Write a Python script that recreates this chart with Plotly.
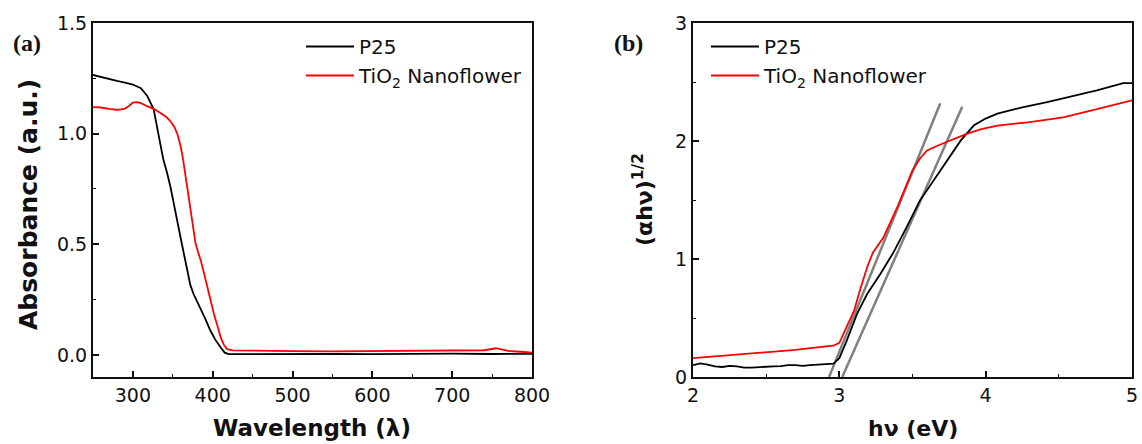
import plotly.graph_objects as go

# ---------------- Panel (a): UV-vis absorbance ----------------
wl_p25 = [250, 260, 270, 280, 290, 300, 310, 318, 326, 330, 334, 338, 343, 347, 352,
          355, 360, 364, 368, 372, 376, 380, 385, 391, 397, 403, 410, 415, 420, 450, 500,
          550, 600, 650, 700, 750, 800]
abs_p25 = [1.265, 1.255, 1.248, 1.238, 1.230, 1.222, 1.205, 1.170, 1.110, 1.040, 0.960,
           0.885, 0.820, 0.760, 0.670, 0.610, 0.525, 0.455, 0.380, 0.315, 0.275, 0.245,
           0.210, 0.160, 0.110, 0.070, 0.033, 0.010, 0.003, 0.004, 0.003, 0.004, 0.003,
           0.005, 0.006, 0.004, 0.005]

wl_nf = [250, 260, 270, 280, 285, 290, 295, 300, 305, 310, 318, 326, 334, 342, 347, 352,
         356, 360, 363, 366, 369, 372, 375, 378.5, 382, 385, 389, 393, 397, 401.5, 406,
         410, 414, 418, 425, 450, 500, 550, 600, 650, 700, 740, 755, 770, 790, 800]
abs_nf = [1.120, 1.118, 1.112, 1.108, 1.110, 1.113, 1.125, 1.140, 1.142, 1.138, 1.124,
          1.112, 1.094, 1.075, 1.056, 1.030, 0.995, 0.940, 0.880, 0.806, 0.730, 0.655,
          0.575, 0.503, 0.460, 0.427, 0.370, 0.306, 0.245, 0.185, 0.130, 0.079, 0.045,
          0.026, 0.020, 0.018, 0.017, 0.016, 0.017, 0.021, 0.022, 0.021, 0.030, 0.018,
          0.013, 0.010]

# ---------------- Panel (b): Tauc plot ----------------
ev_p25 = [2.00, 2.05, 2.10, 2.15, 2.20, 2.25, 2.30, 2.35, 2.40, 2.45, 2.50, 2.55, 2.60,
          2.65, 2.70, 2.75, 2.80, 2.85, 2.90, 2.96, 3.00, 3.05, 3.12, 3.19, 3.28, 3.37,
          3.46, 3.55, 3.62, 3.69, 3.76, 3.83, 3.92, 4.00, 4.08, 4.25, 4.42, 4.60, 4.76,
          4.94, 5.00]
tauc_p25 = [0.100, 0.115, 0.105, 0.090, 0.085, 0.095, 0.090, 0.080, 0.080, 0.085, 0.085,
            0.090, 0.093, 0.100, 0.100, 0.095, 0.100, 0.105, 0.105, 0.113, 0.160, 0.306,
            0.533, 0.703, 0.873, 1.056, 1.270, 1.495, 1.620, 1.750, 1.880, 2.005, 2.133,
            2.190, 2.232, 2.285, 2.330, 2.380, 2.430, 2.490, 2.490]

ev_nf = [2.00, 2.10, 2.20, 2.30, 2.40, 2.50, 2.60, 2.70, 2.80, 2.90, 2.96, 3.00, 3.05,
         3.10, 3.14, 3.19, 3.23, 3.30, 3.40, 3.45, 3.50, 3.55, 3.60, 3.67, 3.73, 3.80,
         3.87, 3.97, 4.08, 4.30, 4.53, 4.76, 5.00]
tauc_nf = [0.160, 0.170, 0.180, 0.185, 0.195, 0.206, 0.215, 0.230, 0.245, 0.255, 0.265,
           0.290, 0.420, 0.560, 0.730, 0.930, 1.056, 1.180, 1.450, 1.600, 1.750, 1.850,
           1.920, 1.960, 1.990, 2.020, 2.060, 2.100, 2.130, 2.160, 2.200, 2.270, 2.345]

# Linear band-edge extrapolations (hv, value) end points
tangent_nf_x = [2.93, 3.69]
tangent_nf_y = [0.00, 2.32]
tangent_p25_x = [3.02, 3.84]
tangent_p25_y = [0.00, 2.29]

names = ["P25", "TiO<sub>2</sub> Nanoflower"]
colors = ["#000000", "#ff0000"]

W, H = 1142, 444
FONT = "DejaVu Sans"
INK = "#111111"
TICK_FONT = dict(family=FONT, size=19, color=INK)

fig = go.Figure()

# panel (a)
fig.add_trace(go.Scatter(x=wl_p25, y=abs_p25, mode="lines", name=names[0],
                         line=dict(color=colors[0], width=1.8), legend="legend",
                         xaxis="x", yaxis="y"))
fig.add_trace(go.Scatter(x=wl_nf, y=abs_nf, mode="lines", name=names[1],
                         line=dict(color=colors[1], width=1.8), legend="legend",
                         xaxis="x", yaxis="y"))

# panel (b)
fig.add_trace(go.Scatter(x=tangent_nf_x, y=tangent_nf_y, mode="lines", showlegend=False,
                         line=dict(color="#808080", width=2.5), xaxis="x2", yaxis="y2"))
fig.add_trace(go.Scatter(x=tangent_p25_x, y=tangent_p25_y, mode="lines", showlegend=False,
                         line=dict(color="#808080", width=2.5), xaxis="x2", yaxis="y2"))
fig.add_trace(go.Scatter(x=ev_p25, y=tauc_p25, mode="lines", name=names[0],
                         line=dict(color=colors[0], width=1.8), legend="legend2",
                         xaxis="x2", yaxis="y2"))
fig.add_trace(go.Scatter(x=ev_nf, y=tauc_nf, mode="lines", name=names[1],
                         line=dict(color=colors[1], width=1.8), legend="legend2",
                         xaxis="x2", yaxis="y2"))


def axis(domain, rng, dtick, minor, anchor, fmt=None):
    d = dict(domain=domain, range=rng, dtick=dtick, tick0=0, anchor=anchor,
             showline=True, mirror=True, linecolor=INK, linewidth=2,
             ticks="inside", ticklen=6, tickwidth=1.5, tickcolor=INK,
             minor=dict(dtick=minor, ticks="inside", ticklen=3, tickwidth=1.2,
                        tickcolor=INK),
             showgrid=False, zeroline=False, automargin=False,
             tickfont=TICK_FONT, fixedrange=True)
    if fmt:
        d["tickformat"] = fmt
    return d


def note(text, x, y, size, family=FONT, angle=0):
    return dict(text=text, x=x / W, y=1 - y / H, xref="paper", yref="paper",
                xanchor="center", yanchor="middle", showarrow=False, textangle=angle,
                font=dict(family=family, size=size, color=INK))


xa = (93 / W, 532 / W)
xb = (693 / W, 1132 / W)
yd = (1 - 377 / H, 1 - 23 / H)

legend_style = dict(xanchor="left", yanchor="top", bgcolor="rgba(0,0,0,0)",
                    font=dict(family=FONT, size=20, color=INK), itemwidth=48,
                    tracegroupgap=0)

fig.update_layout(
    width=W, height=H,
    margin=dict(l=0, r=0, t=0, b=0, pad=0, autoexpand=False),
    paper_bgcolor="white", plot_bgcolor="white",
    xaxis=axis(xa, [250, 800], 100, 50, "y"),
    yaxis=axis(yd, [-0.1, 1.5], 0.5, 0.25, "x", ".1f"),
    xaxis2=axis(xb, [2, 5], 1, 0.5, "y2"),
    yaxis2=axis(yd, [0, 3], 1, 0.5, "x2"),
    legend=dict(x=301 / W, y=1 - 27 / H, **legend_style),
    legend2=dict(x=706 / W, y=1 - 27 / H, **legend_style),
    annotations=[
        note("<b>(a)</b>", 27, 43, 24, "Liberation Serif"),
        note("<b>(b)</b>", 628, 43, 24, "Liberation Serif"),
        note("<b>Absorbance (a.u.)</b>", 28, 205, 25, angle=-90),
        note("<b>Wavelength (λ)</b>", 312, 428, 23),
        note("<b>(αhν)<sup>1/2</sup></b>", 643, 200, 22, angle=-90),
        note("<b>hν (eV)</b>", 913, 428, 22),
    ],
)

fig.write_html("out.html")
